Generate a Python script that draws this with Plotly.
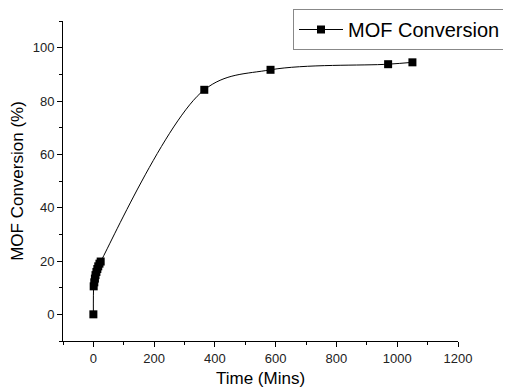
import plotly.graph_objects as go

time_min = [0, 1, 3, 5, 7, 10, 13, 16, 20, 24, 365, 583, 970, 1050]
conversion = [0, 10.5, 12, 13.4, 14.7, 15.9, 17.0, 18.0, 19.0, 19.8, 84.2, 91.7, 93.8, 94.5]

fig = go.Figure()
fig.add_trace(go.Scatter(
    x=time_min, y=conversion, mode="lines+markers", name="MOF Conversion",
    line=dict(color="black", width=1, shape="spline", smoothing=1.0),
    marker=dict(symbol="square", size=8, color="black"),
))

# page body has an 8px default margin; lay the figure out in shifted pixels
OFF = 8
W, H = 511 - OFF, 388 - OFF
plot_left, plot_right, plot_top, plot_bottom = 63 - OFF, 458 - OFF, 21 - OFF, 341 - OFF
L, B = plot_left, H - plot_bottom
paper_w = W - L
paper_h = H - B

axis_font = dict(family="Liberation Sans, Arial, sans-serif", size=13, color="#222")
fig.update_layout(
    width=W, height=H,
    margin=dict(l=L, r=0, t=0, b=B, autoexpand=False),
    paper_bgcolor="white", plot_bgcolor="white",
    font=dict(family="Liberation Sans, Arial, sans-serif", color="black"),
    showlegend=True,
    legend=dict(
        x=(293 - OFF - L) / paper_w, y=(paper_h - 1) / paper_h,
        xanchor="left", yanchor="top",
        bordercolor="#888", borderwidth=1, bgcolor="white",
        font=dict(size=20, color="black"), itemwidth=44,
        tracegroupgap=0,
    ),
    xaxis=dict(
        domain=[0, (plot_right - L) / paper_w], automargin=False,
        range=[-100, 1200], tickvals=[0, 200, 400, 600, 800, 1000, 1200],
        showgrid=False, zeroline=False, showline=True, linecolor="black", linewidth=1,
        ticks="outside", ticklen=5, tickcolor="black", tickfont=axis_font,
        minor=dict(dtick=100, tick0=0, ticks="outside", ticklen=3, tickcolor="black"),
        title=dict(text="Time (Mins)", font=dict(size=17, color="black"), standoff=7),
    ),
    yaxis=dict(
        domain=[0, (paper_h - plot_top) / paper_h], automargin=False,
        range=[-10, 110], tickvals=[0, 20, 40, 60, 80, 100],
        showgrid=False, zeroline=False, showline=True, linecolor="black", linewidth=1,
        ticks="outside", ticklen=5, tickcolor="black", tickfont=axis_font,
        minor=dict(dtick=10, tick0=0, ticks="outside", ticklen=3, tickcolor="black"),
        title=dict(text="MOF Conversion (%)", font=dict(size=17, color="black"), standoff=8),
    ),
)

fig.write_html("out.html")
